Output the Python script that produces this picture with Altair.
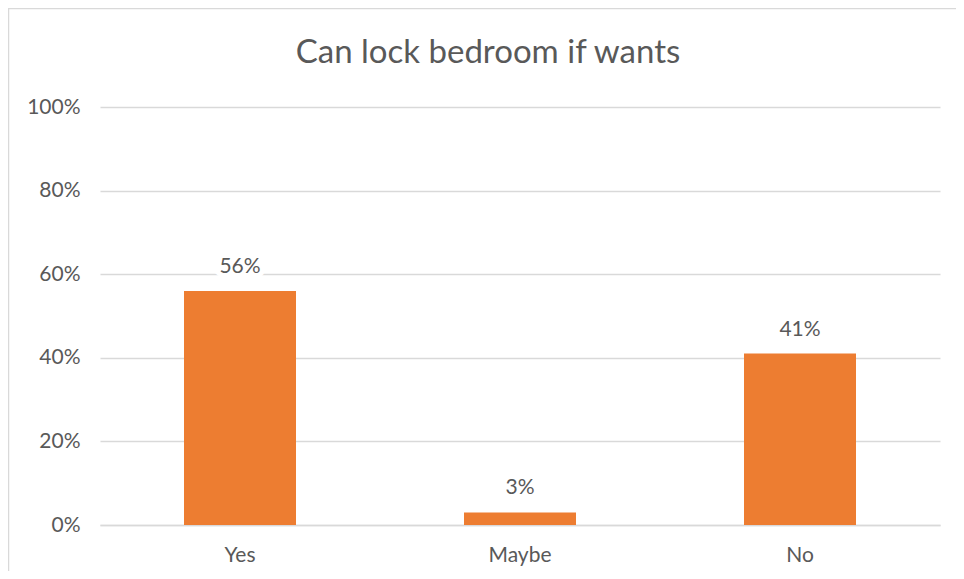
import altair as alt
import pandas as pd

categories = ["Yes", "Maybe", "No"]
values = [0.56, 0.03, 0.41]
labels = ["56%", "3%", "41%"]
y_ticks = [0, 0.2, 0.4, 0.6, 0.8, 1.0]
title_text = "Can lock bedroom if wants"

df = pd.DataFrame({"answer": categories, "share": values, "label": labels})

FONT = "Lato"
TXT = "#595959"
GRID = "#D9D9D9"
BAR = "#ED7D31"
W, H = 840, 418

base = alt.Chart(df)

x_enc = alt.X(
    "answer:N",
    sort=categories,
    title=None,
    scale=alt.Scale(paddingInner=0.6, paddingOuter=0.3),
    axis=alt.Axis(
        labelAngle=0, labelFontSize=21, labelColor=TXT, labelFont=FONT,
        labelPadding=19, ticks=False, domain=True, domainColor=GRID,
        domainWidth=1.5, grid=False,
    ),
)
y_enc = alt.Y(
    "share:Q",
    title=None,
    scale=alt.Scale(domain=[0, 1]),
    axis=alt.Axis(
        values=y_ticks, format=".0%", labelFontSize=21, labelColor=TXT,
        labelFont=FONT, labelPadding=20, ticks=False, domain=False,
        grid=True, gridColor=GRID, gridWidth=1.5,
    ),
)

bars = base.mark_bar(color=BAR).encode(x=x_enc, y=y_enc)

halo = base.mark_text(
    font=FONT, fontSize=21, color="white", stroke="white", strokeWidth=10,
    baseline="alphabetic", dy=-18,
).encode(x=alt.X("answer:N", sort=categories), y="share:Q", text="label:N")

text = base.mark_text(
    font=FONT, fontSize=21, color=TXT, baseline="alphabetic", dy=-18,
).encode(x=alt.X("answer:N", sort=categories), y="share:Q", text="label:N")

title = alt.Chart(alt.Data(values=[{"t": title_text}])).mark_text(
    font=FONT, fontSize=33, color=TXT, baseline="alphabetic", align="center",
).encode(x=alt.value(388), y=alt.value(-44), text="t:N")

border = alt.Chart(alt.Data(values=[{}])).mark_rect(
    filled=False, stroke=GRID, strokeWidth=1.5
).encode(
    x=alt.value(-91.5), x2=alt.value(W + 100),
    y=alt.value(-98.5), y2=alt.value(H + 100),
)

chart = alt.layer(border, bars, halo, text, title).properties(
    width=W,
    height=H,
    autosize="none",
    background="white",
    padding={"left": 92, "top": 99, "right": 16, "bottom": 46},
).configure_view(strokeWidth=0, stroke="transparent")

chart.save("out.html", embed_options={"renderer": "svg", "actions": False})
